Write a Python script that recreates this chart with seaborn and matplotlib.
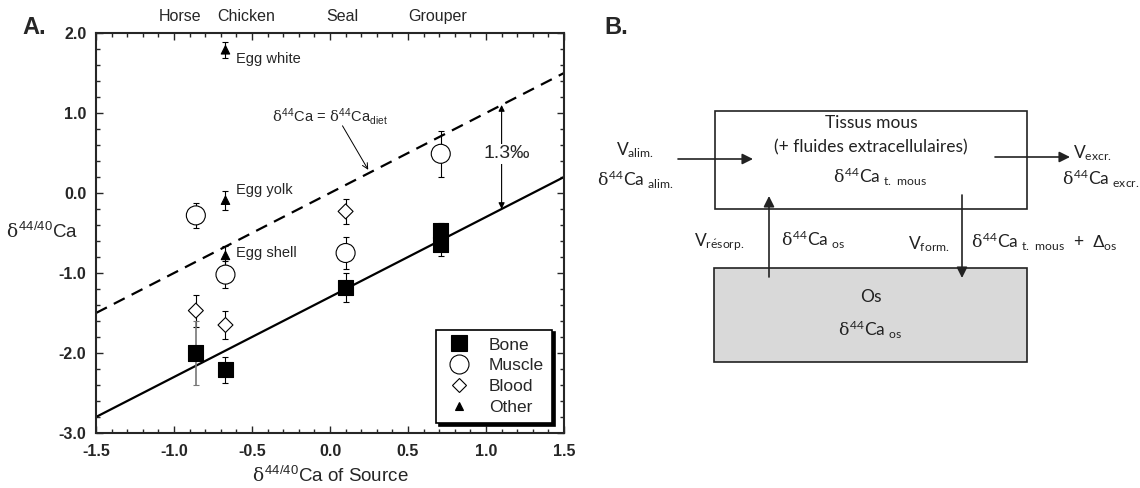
import numpy as np
import pandas as pd
import matplotlib
matplotlib.use("Agg")
import matplotlib.pyplot as plt
import seaborn as sns
from matplotlib.lines import Line2D
from matplotlib.patches import Rectangle
from matplotlib.ticker import MultipleLocator, FormatStrFormatter
import matplotlib.transforms as mtransforms

# species (top labels) and their source values
species = ["Horse", "Chicken", "Seal", "Grouper"]
species_label_x = [-0.96, -0.54, 0.08, 0.69]

# delta44/40Ca of source vs tissue
bone_src = [-0.86, -0.67, 0.10, 0.71, 0.71]
bone_val = [-2.00, -2.21, -1.18, -0.47, -0.64]
bone_err = [0.40, 0.16, 0.18, 0.10, 0.15]
muscle_src = [-0.86, -0.67, 0.10, 0.71]
muscle_val = [-0.28, -1.02, -0.75, 0.49]
muscle_err = [0.16, 0.17, 0.20, 0.29]
blood_src = [-0.86, -0.67, 0.10]
blood_val = [-1.47, -1.65, -0.23]
blood_err = [0.20, 0.17, 0.16]
other_src = [-0.67, -0.67, -0.67]
other_val = [1.79, -0.09, -0.78]
other_err = [0.10, 0.12, 0.12]
other_names = ["Egg white", "Egg yolk", "Egg shell"]

line_x = [-1.5, 1.5]
bone_offset = -1.3

sns.set_style("ticks")
plt.rcParams["font.family"] = ["Liberation Sans", "DejaVu Sans"]
plt.rcParams["axes.unicode_minus"] = False
plt.rcParams["mathtext.fontset"] = "custom"
plt.rcParams["mathtext.rm"] = "Liberation Sans"
plt.rcParams["mathtext.it"] = "DejaVu Serif"
plt.rcParams["mathtext.sf"] = "Lato"
plt.rcParams["mathtext.bf"] = "Liberation Sans:bold"

frames = []
for name, s, v, e in [("Bone", bone_src, bone_val, bone_err),
                      ("Muscle", muscle_src, muscle_val, muscle_err),
                      ("Blood", blood_src, blood_val, blood_err),
                      ("Other", other_src, other_val, other_err)]:
    frames.append(pd.DataFrame({"tissue": name, "source": s, "d44": v, "err": e}))
df = pd.concat(frames, ignore_index=True)

fig = plt.figure(figsize=(11.4, 4.88), dpi=100)
ax = fig.add_axes([96 / 1140, 55 / 488, 468 / 1140, 400 / 488])

# reference lines
sns.lineplot(x=line_x, y=line_x, ax=ax, color="black", lw=1.6,
             linestyle=(0, (5.5, 3.5)), zorder=1)
sns.lineplot(x=line_x, y=[v + bone_offset for v in line_x], ax=ax,
             color="black", lw=1.6, zorder=1)

# error bars
horse_bone = (df.tissue == "Bone") & (df.source == -0.86)
rest = df[~horse_bone]
ax.errorbar(rest.source, rest.d44, yerr=rest.err, fmt="none", ecolor="black",
            elinewidth=0.8, capsize=2.5, capthick=0.8, zorder=2)
hb = df[horse_bone]
ax.errorbar(hb.source, hb.d44, yerr=hb.err, fmt="none", ecolor="#777777",
            elinewidth=1.2, capsize=2.5, capthick=0.8, zorder=2)

markers = {"Bone": "s", "Muscle": "o", "Blood": "D", "Other": "^"}
palette = {"Bone": "black", "Muscle": "white", "Blood": "white", "Other": "black"}
sizes = {"Bone": 117, "Muscle": 187, "Blood": 58, "Other": 37}
sns.scatterplot(data=df, x="source", y="d44", hue="tissue", style="tissue",
                size="tissue", markers=markers, palette=palette, sizes=sizes,
                edgecolor="black", linewidth=0.8, legend=False, ax=ax, zorder=3)

ax.set_xlim(-1.5, 1.5)
ax.set_ylim(-3.0, 2.0)
ax.xaxis.set_major_locator(MultipleLocator(0.5))
ax.xaxis.set_minor_locator(MultipleLocator(0.1))
ax.yaxis.set_major_locator(MultipleLocator(1.0))
ax.yaxis.set_minor_locator(MultipleLocator(0.2))
ax.xaxis.set_major_formatter(FormatStrFormatter("%.1f"))
ax.yaxis.set_major_formatter(FormatStrFormatter("%.1f"))
ax.tick_params(which="both", direction="in", top=True, right=True, width=1,
               labelsize=11.5)
ax.tick_params(which="major", length=5)
ax.tick_params(which="minor", length=3)
ax.tick_params(axis="x", pad=8)
ax.tick_params(axis="y", pad=7)
for lbl in ax.get_xticklabels() + ax.get_yticklabels():
    lbl.set_fontweight("bold")
for sp in ax.spines.values():
    sp.set_linewidth(1.5)
ax.set_xlabel(r"$\delta^{44/40}$Ca of Source", fontsize=13.5, labelpad=5)
ax.set_ylabel("")

fig.text(6 / 1140, 1 - 232 / 488, r"$\delta^{44/40}$Ca", fontsize=13.5,
         ha="left", va="center")
fig.text(22 / 1140, 1 - 27 / 488, "A.", fontsize=17, fontweight="bold",
         ha="left", va="center")

trans = mtransforms.blended_transform_factory(ax.transData, ax.transAxes)
for name, x in zip(species, species_label_x):
    ax.text(x, 1.04, name, transform=trans, ha="center", va="center",
            fontsize=11.5, clip_on=False)

for name, y in zip(other_names, [1.67, 0.04, -0.75]):
    ax.text(-0.6, y, name, ha="left", va="center", fontsize=10.5)

ax.text(0.0, 0.95, r"$\delta^{44}$Ca = $\delta^{44}$Ca$_{\rm diet}$",
        ha="center", va="center", fontsize=10.5)
ax.annotate("", xy=(0.245, 0.29), xytext=(0.08, 0.84),
            arrowprops=dict(arrowstyle="->", lw=0.7, color="black",
                            shrinkA=0, shrinkB=0))
ax.annotate("", xy=(1.1, 1.1), xytext=(1.1, -0.2),
            arrowprops=dict(arrowstyle="<|-|>", lw=0.8, color="black",
                            mutation_scale=9, shrinkA=0, shrinkB=0))
ax.text(1.13, 0.49, "1.3‰", ha="center", va="center", fontsize=14,
        bbox=dict(fc="white", ec="none", pad=1), zorder=4)

handles = [Line2D([], [], ls="", marker=markers[k], markersize=np.sqrt(sizes[k]),
                  markerfacecolor=palette[k], markeredgecolor="black",
                  markeredgewidth=0.8) for k in markers]
leg = ax.legend(handles, list(markers), loc="lower right",
                bbox_to_anchor=(0.974, 0.025), borderaxespad=0, fontsize=12.5,
                frameon=True, fancybox=False, edgecolor="black",
                shadow={"color": "black", "alpha": 1}, labelspacing=0.33,
                handletextpad=0.8, borderpad=0.45, handlelength=1.8)
leg.get_frame().set_linewidth(1.2)
leg.get_frame().set_alpha(1)

# panel B: box diagram in pixel coordinates
axb = fig.add_axes([0, 0, 1, 1])
axb.set_xlim(0, 1140)
axb.set_ylim(488, 0)
axb.axis("off")
bfont = ["Lato", "DejaVu Sans"]

axb.text(604, 28, "B.", fontsize=17, fontweight="bold", ha="left", va="center")
axb.add_patch(Rectangle((715, 111), 312, 98, fc="white", ec="#222222", lw=1.2))
axb.add_patch(Rectangle((714, 268), 313, 94, fc="#d9d9d9", ec="#222222", lw=1.2))

arr = dict(arrowstyle="-|>", lw=1.2, color="#222222", mutation_scale=16,
           shrinkA=0, shrinkB=0)
axb.annotate("", xy=(753, 159), xytext=(678, 159), arrowprops=arr)
axb.annotate("", xy=(1070, 157), xytext=(995, 157), arrowprops=arr)
axb.annotate("", xy=(769, 196), xytext=(769, 277), arrowprops=arr)
axb.annotate("", xy=(962, 278), xytext=(962, 195), arrowprops=arr)

d44 = r"$\delta^{\mathsf{44}}$Ca"
tk = dict(fontsize=12.5, family=bfont, va="center", color="#222222")
axb.text(871, 123, "Tissus mous", ha="center", **tk)
axb.text(871, 147, "(+ fluides extracellulaires)", ha="center", **tk)
axb.text(880, 177, d44 + r"$_{\mathsf{\ t.\ mous}}$", ha="center", **tk)
axb.text(871, 297, "Os", ha="center", **tk)
axb.text(870, 330, d44 + r"$_{\mathsf{\ os}}$", ha="center", **tk)

axb.text(616, 150, r"V$_{\mathsf{alim.}}$", ha="left", **tk)
axb.text(597, 180, d44 + r"$_{\mathsf{\ alim.}}$", ha="left", **tk)
axb.text(1073, 153, r"V$_{\mathsf{excr.}}$", ha="left", **tk)
axb.text(1062, 179, d44 + r"$_{\mathsf{\ excr.}}$", ha="left", **tk)
axb.text(694, 242, r"V$_{\mathsf{r\acute{e}sorp.}}$", ha="left", **tk)
axb.text(781, 240, d44 + r"$_{\mathsf{\ os}}$", ha="left", **tk)
axb.text(908, 244, r"V$_{\mathsf{form.}}$", ha="left", **tk)
axb.text(971, 242, d44 + r"$_{\mathsf{\ t.\ mous}}$  +  $\Delta_{\mathsf{os}}$",
         ha="left", **tk)

fig.savefig("out.png", dpi=100)
